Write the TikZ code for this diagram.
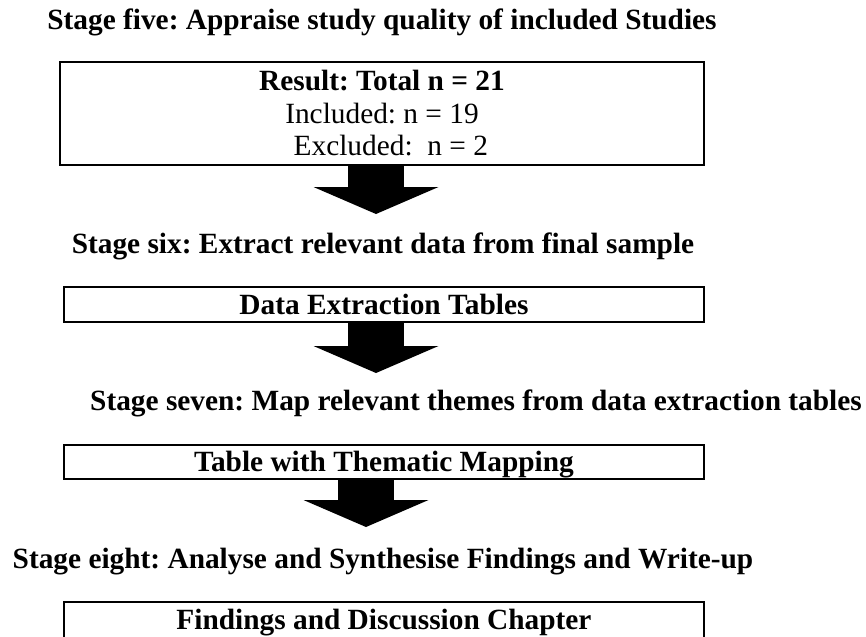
\documentclass[tikz,border=0pt]{standalone}
\usepackage{fontspec}
\setmainfont{Liberation Serif}
\usetikzlibrary{arrows.meta}
\frenchspacing

\begin{document}
\begin{tikzpicture}[
  stagelabel/.style={font=\fontsize{16.7}{18.5}\selectfont\bfseries,anchor=base,inner sep=0pt},
  tablebox/.style={draw,line width=1.1pt,minimum width=12.8cm,inner sep=0pt,font=\fontsize{16.7}{18.5}\selectfont\bfseries,text height=0.39cm,text depth=0pt},
  blockarrow/.style={line width=1.12cm,-{Triangle[length=0.54cm 0 0,width=2.5cm 0 0,line width=0pt 0 0]}}]
\clip (0,0) rectangle (17.32,-12.72);

% stage five
\node[stagelabel] (s5) at (7.64,-0.58) {Stage five: Appraise study quality of included Studies};
\node[draw,line width=1.1pt,minimum width=12.88cm,minimum height=2.06cm,inner sep=0pt,align=center,font=\fontsize{16.7}{18.5}\selectfont] (res) at (7.64,-2.27) {\textbf{Result: Total n = 21}\\Included: n = 19\\\hspace*{0.6em}Excluded:\ \ n = 2};
\coordinate (tip1) at (7.52,-4.28);
\draw[blockarrow] (res.south -| tip1) -- (tip1);

% stage six
\node[stagelabel] (s6) at (7.66,-5.06) {Stage six: Extract relevant data from final sample};
\node[tablebox,minimum height=0.70cm] (det) at (7.68,-6.09) {Data Extraction Tables};
\coordinate (tip2) at (7.52,-7.46);
\draw[blockarrow] (det.south -| tip2) -- (tip2);

% stage seven
\node[stagelabel] (s7) at (9.52,-8.20) {Stage seven: Map relevant themes from data extraction tables};
\node[tablebox,minimum height=0.68cm] (tmap) at (7.68,-9.24) {Table with Thematic Mapping};
\coordinate (tip3) at (7.32,-10.54);
\draw[blockarrow] (tmap.south -| tip3) -- (tip3);

% stage eight
\node[stagelabel] (s8) at (7.66,-11.36) {Stage eight: Analyse and Synthesise Findings and Write-up};
\node[tablebox,minimum height=0.72cm] (fdc) at (7.68,-12.40) {Findings and Discussion Chapter};
\end{tikzpicture}
\end{document}
